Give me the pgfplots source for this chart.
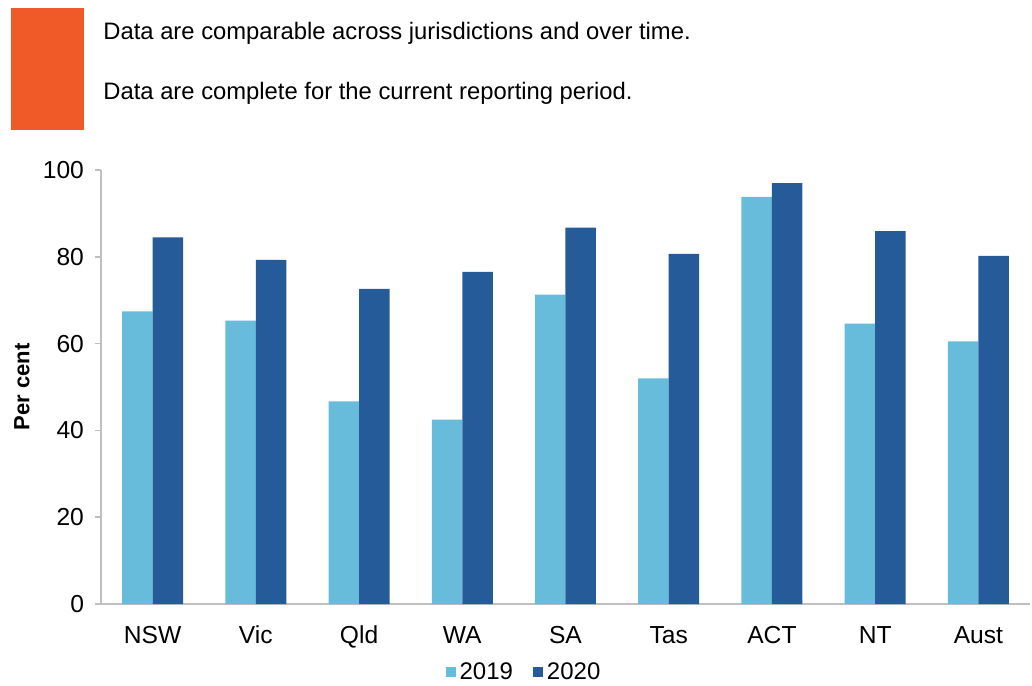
\documentclass[border=0pt]{standalone}
\usepackage{fontspec}
\setmainfont{Liberation Sans}
\usepackage{pgfplots}
\pgfplotsset{compat=1.18}
\definecolor{light}{HTML}{67BCDB}
\definecolor{dark}{HTML}{265B9A}
\definecolor{orng}{HTML}{F05A28}
\definecolor{axgray}{HTML}{BFBFBF}
\begin{document}
\begin{tikzpicture}
\useasboundingbox (0,0) rectangle (516pt,342.5pt);
\fill[orng] (5.5pt,277.5pt) rectangle (42pt,338.5pt);
\node[anchor=west,inner sep=0pt,font=\fontsize{11.9pt}{13pt}\selectfont] at (51.5pt,326pt) {Data are comparable across jurisdictions and over time.};
\node[anchor=west,inner sep=0pt,font=\fontsize{11.9pt}{13pt}\selectfont] at (51.5pt,296pt) {Data are complete for the current reporting period.};
\begin{axis}[
  at={(50.5pt,40.5pt)}, anchor=south west,
  scale only axis, width=464.5pt, height=217pt,
  xmin=-0.5, xmax=8.5, ymin=0, ymax=100,
  ybar=0pt, bar width=15.25pt,
  axis x line=bottom, axis y line=left,
  axis line style={-, draw=axgray, line width=0.8pt},
  xtick=data, xticklabels={NSW,Vic,Qld,WA,SA,Tas,ACT,NT,Aust},
  xtick style={draw=none},
  xticklabel style={text height=9pt, text depth=0pt, yshift=-4pt},
  ytick={0,20,...,100},
  ytick style={draw=axgray, line width=0.8pt},
  yticklabel style={xshift=-2pt},
  tick align=outside, major tick length=3pt,
  tick label style={font=\fontsize{12.3pt}{14pt}\selectfont},
  /pgf/number format/assume math mode=true,
  ylabel={Per cent},
  ylabel style={at={(axis description cs:-0.085,0.5)}, anchor=center, font=\bfseries\fontsize{11pt}{13pt}\selectfont},
  legend columns=2,
  legend style={at={(axis description cs:0.4564,-0.157)}, anchor=center, draw=none, fill=none,
    font=\fontsize{12pt}{14pt}\selectfont,
    /tikz/every even column/.append style={column sep=8pt}},
  legend image code/.code={\fill[#1] (0pt,-2.5pt) rectangle (5pt,2.5pt);},
]
\addplot[fill=light, draw=none] coordinates {(0,67.4) (1,65.3) (2,46.7) (3,42.5) (4,71.3) (5,52.0) (6,93.8) (7,64.6) (8,60.5)};
\addplot[fill=dark, draw=none] coordinates {(0,84.5) (1,79.3) (2,72.6) (3,76.5) (4,86.7) (5,80.7) (6,97.0) (7,85.9) (8,80.2)};
\legend{2019,2020}
\end{axis}
\end{tikzpicture}
\end{document}
